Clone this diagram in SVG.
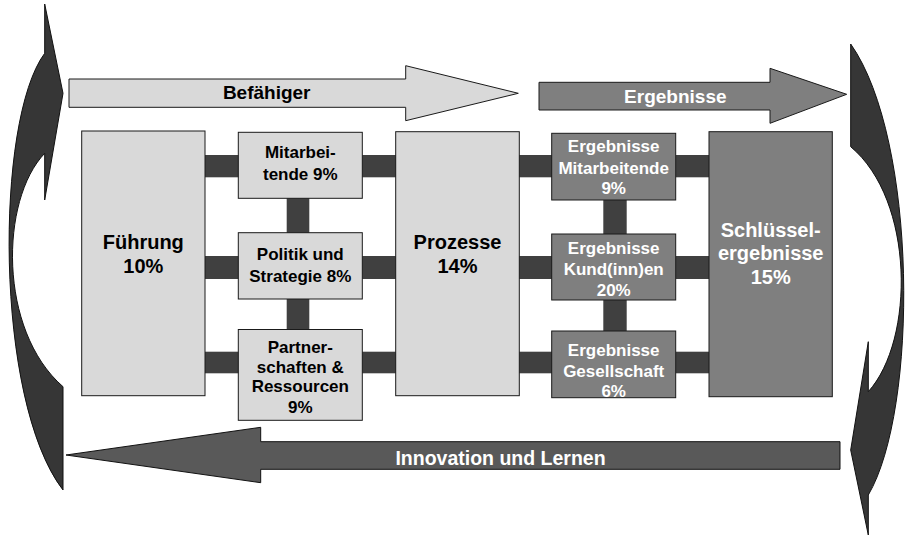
<svg xmlns="http://www.w3.org/2000/svg" width="907" height="546" viewBox="0 0 907 546">
<style>
.lt{fill:#d9d9d9;stroke:#1a1a1a;stroke-width:1}
.md{fill:#7f7f7f;stroke:#1a1a1a;stroke-width:1}
.cv{fill:#363636;stroke:#111;stroke-width:1}
.bar{fill:#404040}
text{font-family:"Liberation Sans",Arial,sans-serif;font-weight:bold;text-anchor:middle}
.tb{fill:#000}
.tw{fill:#fff}
.f20{font-size:20px}
.f17{font-size:17px}
.f19{font-size:19px}
</style>
<rect width="907" height="546" fill="#fff"/>
<g id="cycle-left">
<path class="cv" d="M44.7,4 L63,93.3 L44.7,200 L44.7,153.3 C0,200 -2,330 63,386.7 L63,490 C-6,400 -5,120 44.7,53.3 Z"/>
</g>
<g id="cycle-right">
<path class="cv" d="M868.3,535 L850.7,450 L868.3,341.7 L868.3,391.7 C915,340 914.6,200 850.7,146.7 L850.7,44 C918,140 918.3,410 868.3,495 Z"/>
</g>
<g id="arrow-befaehiger">
<polygon class="lt" points="69,79 405.7,79 405.7,65.7 518.3,93.3 405.7,120.7 405.7,107.3 69,107.3"/>
<text class="tb f19" x="266.7" y="99">Befähiger</text>
</g>
<g id="arrow-ergebnisse">
<polygon class="md" points="539,82.3 770,82.3 770,68.3 846.7,94.3 770,123.3 770,110 539,110"/>
<text class="tw f19" x="675.3" y="103">Ergebnisse</text>
</g>
<g id="arrow-innovation">
<polygon fill="#595959" stroke="#111" stroke-width="1" points="840,441.7 260.7,441.7 260.7,427.3 66,455 260.7,482.7 260.7,469.3 840,469.3"/>
<text class="tw f19" x="500.5" y="464.5" style="font-size:19.5px">Innovation und Lernen</text>
</g>
<g id="connectors">
<rect class="bar" x="205" y="155" width="34" height="22.3"/>
<rect class="bar" x="205" y="256" width="34" height="23"/>
<rect class="bar" x="205" y="351.7" width="34" height="21.6"/>
<rect class="bar" x="362" y="155" width="34" height="22.3"/>
<rect class="bar" x="362" y="256" width="34" height="23"/>
<rect class="bar" x="362" y="351.7" width="34" height="21.6"/>
<rect class="bar" x="286.7" y="198" width="22.6" height="35"/>
<rect class="bar" x="286.7" y="299" width="22.6" height="31"/>
<rect class="bar" x="519" y="155" width="33" height="22.3"/>
<rect class="bar" x="519" y="256" width="33" height="23"/>
<rect class="bar" x="519" y="351.7" width="33" height="21.6"/>
<rect class="bar" x="675.5" y="155" width="34" height="22.3"/>
<rect class="bar" x="675.5" y="256" width="34" height="23"/>
<rect class="bar" x="675.5" y="351.7" width="34" height="21.6"/>
<rect class="bar" x="603.3" y="200" width="23.4" height="34"/>
<rect class="bar" x="603.3" y="300" width="23.4" height="31"/>
</g>
<g id="fuehrung">
<rect class="lt" x="81.7" y="131" width="123.3" height="264.7"/>
<text class="tb f20" x="143.3" y="249">Führung</text>
<text class="tb f20" x="143.3" y="273">10%</text>
</g>
<g id="mitarbeitende">
<rect class="lt" x="238.3" y="132.3" width="124" height="66"/>
<text class="tb f17" x="300.3" y="158.3">Mitarbei-</text>
<text class="tb f17" x="300.3" y="180">tende 9%</text>
</g>
<g id="politik">
<rect class="lt" x="238.3" y="232.7" width="124" height="66.3"/>
<text class="tb f17" x="300.3" y="260">Politik und</text>
<text class="tb f17" x="300.3" y="281.7">Strategie 8%</text>
</g>
<g id="partnerschaften">
<rect class="lt" x="238.3" y="329.5" width="124" height="90.8"/>
<text class="tb f17" x="300.3" y="353.3">Partner-</text>
<text class="tb f17" x="300.3" y="372.7">schaften &amp;</text>
<text class="tb f17" x="300.3" y="392.3">Ressourcen</text>
<text class="tb f17" x="300.3" y="413.3">9%</text>
</g>
<g id="prozesse">
<rect class="lt" x="395.7" y="131.7" width="123.6" height="264"/>
<text class="tb f20" x="457.5" y="249">Prozesse</text>
<text class="tb f20" x="457.5" y="273">14%</text>
</g>
<g id="erg-mitarbeitende">
<rect class="md" x="551.7" y="133.3" width="124" height="66.7"/>
<text class="tw f17" x="613.7" y="152.3">Ergebnisse</text>
<text class="tw f17" x="613.7" y="174">Mitarbeitende</text>
<text class="tw f17" x="613.7" y="194">9%</text>
</g>
<g id="erg-kunden">
<rect class="md" x="551.7" y="234" width="124" height="66"/>
<text class="tw f17" x="613.7" y="254.3">Ergebnisse</text>
<text class="tw f17" x="613.7" y="275">Kund(inn)en</text>
<text class="tw f17" x="613.7" y="295.7">20%</text>
</g>
<g id="erg-gesellschaft">
<rect class="md" x="551.7" y="331" width="124" height="66.7"/>
<text class="tw f17" x="613.7" y="356">Ergebnisse</text>
<text class="tw f17" x="613.7" y="376.7">Gesellschaft</text>
<text class="tw f17" x="613.7" y="396.7">6%</text>
</g>
<g id="schluesselergebnisse">
<rect class="md" x="709" y="131.7" width="123.3" height="265"/>
<text class="tw f20" x="770.7" y="236.5">Schlüssel-</text>
<text class="tw f20" x="770.7" y="260">ergebnisse</text>
<text class="tw f20" x="770.7" y="283.5">15%</text>
</g>
</svg>
